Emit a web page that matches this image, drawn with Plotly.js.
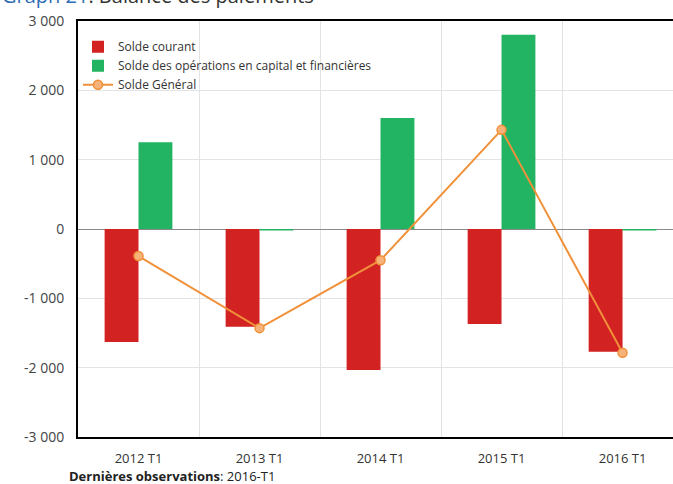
<!DOCTYPE html>
<html>
<head>
<meta charset="utf-8">
<script src="https://cdn.plot.ly/plotly-3.0.1.min.js"></script>
<style>html,body{margin:0;padding:0;background:#fff;}#chart{width:673px;height:484px;}</style>
</head>
<body>
<div id="chart"></div>
<script>
const categories = ["2012 T1", "2013 T1", "2014 T1", "2015 T1", "2016 T1"];
const soldeCourant = [-1630, -1410, -2035, -1370, -1770];
const soldeCapital = [1250, -20, 1600, 2800, -20];
const soldeGeneral = [-390, -1430, -450, 1430, -1785];
const yTickVals = [-3000, -2000, -1000, 0, 1000, 2000, 3000];
const yTickText = ["-3 000", "-2 000", "-1 000", "0", "1 000", "2 000", "3 000"];

const FONT = "'Open Sans', Lato, sans-serif";

const traces = [
  {
    type: "bar", name: "Solde courant", x: categories, y: soldeCourant,
    marker: {color: "#d22222", line: {width: 0}}
  },
  {
    type: "bar", name: "Solde des opérations en capital et financières", x: categories, y: soldeCapital,
    marker: {color: "#22b463", line: {width: 0}}
  },
  {
    type: "scatter", mode: "lines+markers", name: "Solde Général", x: categories, y: soldeGeneral,
    line: {color: "#f0913a", width: 2},
    marker: {symbol: "circle", size: 9, color: "#f7b27a", line: {color: "#f0913a", width: 1.5}}
  }
];

const layout = {
  width: 673, height: 484,
  margin: {l: 78, r: 0, t: 21, b: 47, pad: 0},
  paper_bgcolor: "#fff", plot_bgcolor: "#fff",
  font: {family: FONT, size: 13, color: "#333"},
  barmode: "group", bargap: 0.44, bargroupgap: 0,
  showlegend: true,
  legend: {
    x: 0.0, y: 0.973, xanchor: "left", yanchor: "top",
    bgcolor: "rgba(0,0,0,0)", font: {size: 12, color: "#333", family: FONT},
    tracegroupgap: 0, itemwidth: 30
  },
  xaxis: {
    type: "category", range: [-0.5, 4.417], tickson: "boundaries",
    showgrid: true, gridcolor: "#e3e3e3", gridwidth: 1,
    showline: true, linecolor: "#000", linewidth: 2, mirror: true,
    ticks: "", ticklabelstandoff: 8,
    tickfont: {size: 13, color: "#333", family: FONT},
    fixedrange: true, zeroline: false
  },
  yaxis: {
    range: [-3000, 3000], tickvals: yTickVals, ticktext: yTickText,
    showgrid: true, gridcolor: "#e3e3e3", gridwidth: 1,
    zeroline: true, zerolinecolor: "#8a8a8a", zerolinewidth: 1,
    showline: true, linecolor: "#000", linewidth: 2,
    ticks: "", ticklabelstandoff: 9,
    tickfont: {size: 14, color: "#444", family: FONT},
    automargin: false, fixedrange: true
  },
  annotations: [
    {
      xref: "paper", yref: "paper", x: -78/595, y: 1 + (21 - 11)/416,
      xanchor: "left", yanchor: "bottom", showarrow: false,
      text: "<span style='color:#2e6db4'>Graph 21</span>: Balance des paiements",
      font: {size: 20, color: "#333", family: FONT}
    },
    {
      xref: "paper", yref: "paper", x: (68 - 78)/595, y: -(475.5 - 437)/416,
      xanchor: "left", yanchor: "middle", showarrow: false, borderpad: 0,
      text: "<b>Dernières observations</b>: 2016-T1",
      font: {size: 13, color: "#222", family: FONT}
    }
  ]
};

Plotly.newPlot("chart", traces, layout, {displayModeBar: false, staticPlot: true});
</script>
</body>
</html>
